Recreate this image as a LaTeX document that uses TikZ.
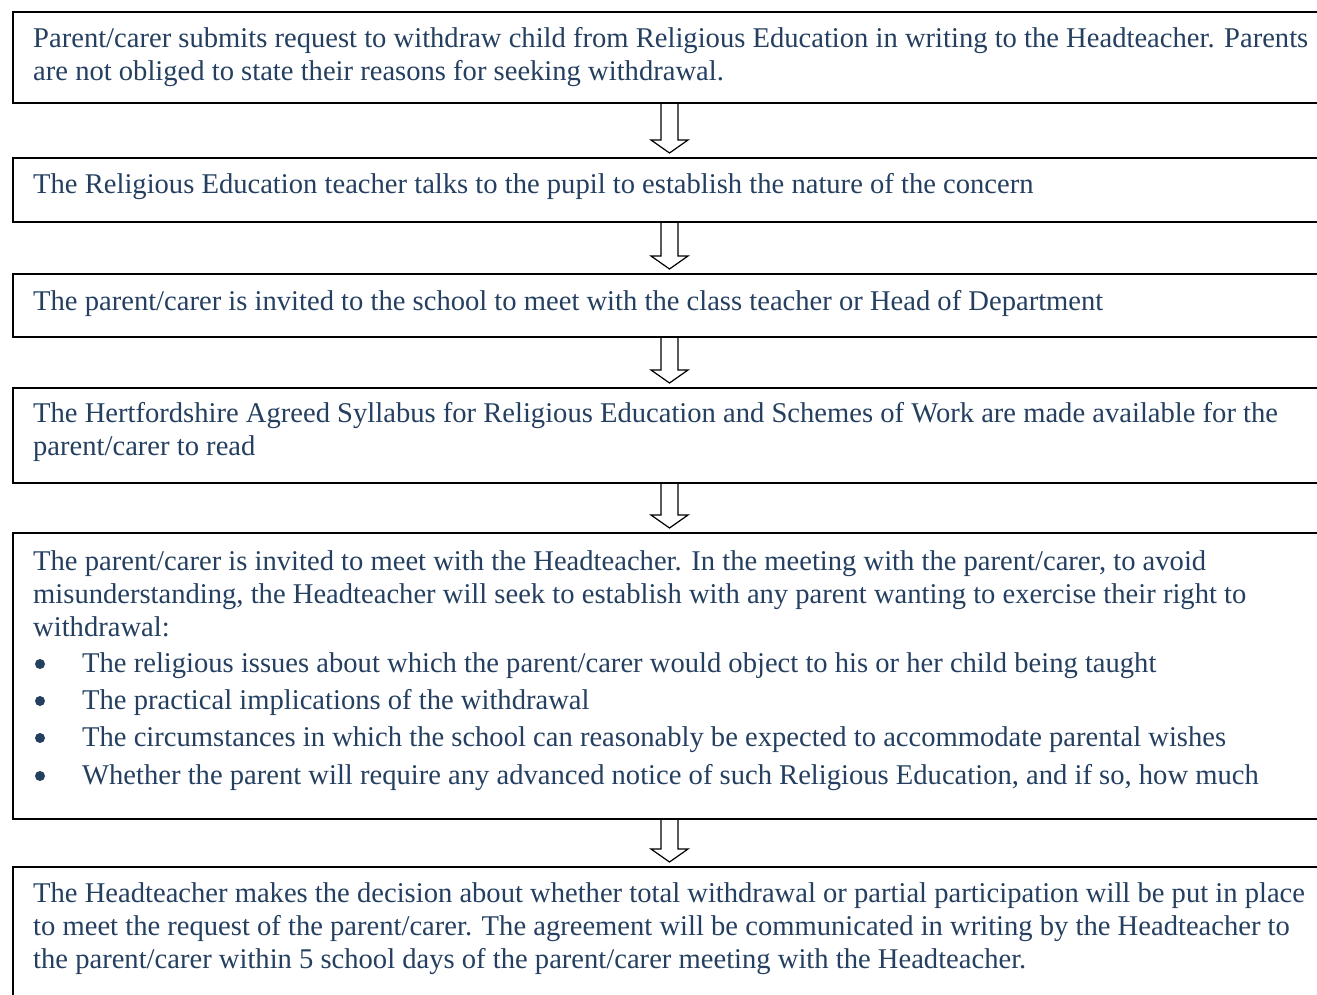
\documentclass[tikz,border=0pt]{standalone}
\usepackage{fontspec}
\setmainfont{Liberation Serif}
\usetikzlibrary{calc}
\definecolor{txt}{HTML}{243F60}
\newlength\reflinewidth
\newcommand\blockarrow[2]{%
  \draw[blk] ($(#1.south -| ax)+(-8.5,0)$) -- ($(#2.north -| ax)+(-8.5,-17)$)
    -- ($(#2.north -| ax)+(-18.5,-17)$) -- ($(#2.north -| ax)+(0,-4)$)
    -- ($(#2.north -| ax)+(18.5,-17)$) -- ($(#2.north -| ax)+(8.5,-17)$)
    -- ($(#1.south -| ax)+(8.5,0)$);}
\begin{document}
\settowidth\reflinewidth{\fontsize{10}{12}\selectfont Parent/carer submits request to withdraw child from Religious Education in writing to the Headteacher. Parents}%
\pgfmathsetmacro\fsz{10*1275/\reflinewidth}%
\begin{tikzpicture}[x=1pt,y=-1pt,
  stepbox/.style={draw=black,line width=1.6pt,anchor=north west,minimum width=1340pt,inner sep=0pt},
  blk/.style={draw=black,line width=1.2pt,line join=miter},
  ln/.style={anchor=base west,inner sep=0pt,text=txt,font=\fontsize{\fsz}{\fsz}\selectfont},
  bul/.style={fill=txt,draw=none,circle,inner sep=0pt,minimum size=10pt}]
\useasboundingbox (0,0) rectangle (1317,995);
\clip (0,0) rectangle (1317,995);
\fill[white] (0,0) rectangle (1317,995);
\coordinate (ax) at (669.5,0);
% boxes
\node[stepbox,minimum height=91pt]  (b1) at (12,11)  {};
\node[stepbox,minimum height=64pt]  (b2) at (12,157) {};
\node[stepbox,minimum height=63pt]  (b3) at (12,273) {};
\node[stepbox,minimum height=95pt]  (b4) at (12,387) {};
\node[stepbox,minimum height=286pt] (b5) at (12,532) {};
\node[stepbox,minimum height=160pt] (b6) at (12,866) {};
% arrows
\blockarrow{b1}{b2}
\blockarrow{b2}{b3}
\blockarrow{b3}{b4}
\blockarrow{b4}{b5}
\blockarrow{b5}{b6}
% texts
\node[ln] (t1a) at (33,48) {Parent/carer submits request to withdraw child from Religious Education in writing to the Headteacher. Parents};
\node[ln] (t1b) at (33,81) {are not obliged to state their reasons for seeking withdrawal.};
\node[ln] (t2a) at (33,194) {The Religious Education teacher talks to the pupil to establish the nature of the concern};
\node[ln] (t3a) at (33,310) {The parent/carer is invited to the school to meet with the class teacher or Head of Department};
\node[ln] (t4a) at (33,422) {The Hertfordshire Agreed Syllabus for Religious Education and Schemes of Work are made available for the};
\node[ln] (t4b) at (33,455) {parent/carer to read};
\node[ln] (t5a) at (33,570) {The parent/carer is invited to meet with the Headteacher. In the meeting with the parent/carer, to avoid};
\node[ln] (t5b) at (33,603) {misunderstanding, the Headteacher will seek to establish with any parent wanting to exercise their right to};
\node[ln] (t5c) at (33,636) {withdrawal:};
\node[ln] (t5d) at (82,672) {The religious issues about which the parent/carer would object to his or her child being taught};
\node[ln] (t5e) at (82,709) {The practical implications of the withdrawal};
\node[ln] (t5f) at (82,746) {The circumstances in which the school can reasonably be expected to accommodate parental wishes};
\node[ln] (t5g) at (82,784) {Whether the parent will require any advanced notice of such Religious Education, and if so, how much};
\node[bul] (u1) at (40,664) {};
\node[bul] (u2) at (40,701) {};
\node[bul] (u3) at (40,738) {};
\node[bul] (u4) at (40,776) {};
\node[ln] (t6a) at (33,902) {The Headteacher makes the decision about whether total withdrawal or partial participation will be put in place};
\node[ln] (t6b) at (33,935) {to meet the request of the parent/carer. The agreement will be communicated in writing by the Headteacher to};
\node[ln] (t6c) at (33,968) {the parent/carer within 5 school days of the parent/carer meeting with the Headteacher.};
\end{tikzpicture}
\end{document}
